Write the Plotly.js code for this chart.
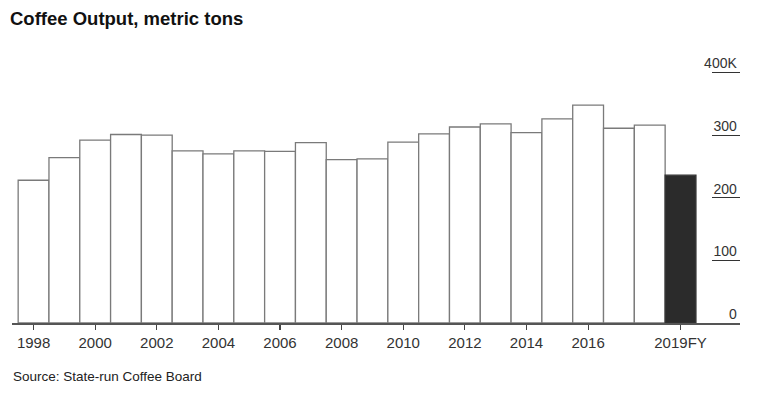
<!DOCTYPE html>
<html>
<head>
<meta charset="utf-8">
<script src="https://cdn.plot.ly/plotly-3.0.1.min.js"></script>
<style>html,body{margin:0;padding:0;background:#fff;}#chart{width:766px;height:400px;}</style>
</head>
<body>
<div id="chart"></div>
<script>
const categories = ['1998','1999','2000','2001','2002','2003','2004','2005','2006','2007','2008','2009','2010','2011','2012','2013','2014','2015','2016','2017','2018','2019FY'];
const outputK = [228,264,292,301,300,275,270,275,274,288,261,262,289,302,313,318,304,326,348,311,316,236];
const xTickVals = ['1998','2000','2002','2004','2006','2008','2010','2012','2014','2016','2019FY'];
const xTickText = ['1998','2000','2002','2004','2006','2008','2010','2012','2014','2016','2019FY'];
const yTickVals = [0,100,200,300,400];
const yTickText = ['0','100','200','300','400K'];

const fontFam = '"Liberation Sans", Arial, Helvetica, sans-serif';
const barColors = categories.map(c => c.endsWith('FY') ? '#2b2b2b' : '#ffffff');
const lineColors = categories.map(c => c.endsWith('FY') ? '#333333' : '#7a7a7a');

const trace = {
  type: 'bar',
  x: categories,
  y: outputK,
  marker: {color: barColors, line: {color: lineColors, width: 1.3}},
  hoverinfo: 'x+y'
};

const layout = {
  width: 766, height: 400,
  margin: {l: 12, r: 26, t: 45, b: 77.3},
  paper_bgcolor: '#fff', plot_bgcolor: '#fff',
  bargap: 0,
  showlegend: false,
  title: {
    text: '<b>Coffee Output, metric tons</b>',
    font: {family: fontFam, size: 18.5, color: '#111'},
    x: 10/766, xanchor: 'left', xref: 'container',
    y: 1 - 19/400, yanchor: 'middle', yref: 'container'
  },
  xaxis: {
    type: 'category',
    range: [-0.7, 22.93],
    tickmode: 'array', tickvals: xTickVals, ticktext: xTickText,
    ticks: 'outside', ticklen: 5, tickcolor: '#444', tickwidth: 1.2,
    showline: true, linecolor: '#555', linewidth: 1.5,
    showgrid: false, zeroline: false,
    tickfont: {family: fontFam, size: 15, color: '#333'}
  },
  yaxis: {
    side: 'right',
    range: [0, 443.96],
    tickmode: 'array', tickvals: yTickVals, ticktext: yTickText,
    ticks: 'inside', ticklen: 28, tickcolor: '#333', tickwidth: 1.3,
    ticklabelposition: 'inside', ticklabelshift: -9, ticklabelstandoff: -25,
    showline: false, showgrid: false, zeroline: false,
    tickfont: {family: fontFam, size: 14, color: '#333'}
  },
  annotations: [{
    text: 'Source: State-run Coffee Board',
    xref: 'paper', yref: 'paper',
    x: -1/728, xanchor: 'left',
    y: (322.7 - 376) / 277.7, yanchor: 'middle',
    showarrow: false,
    font: {family: fontFam, size: 13.5, color: '#222'}
  }]
};

Plotly.newPlot('chart', [trace], layout, {displayModeBar: false, staticPlot: true});
</script>
</body>
</html>
